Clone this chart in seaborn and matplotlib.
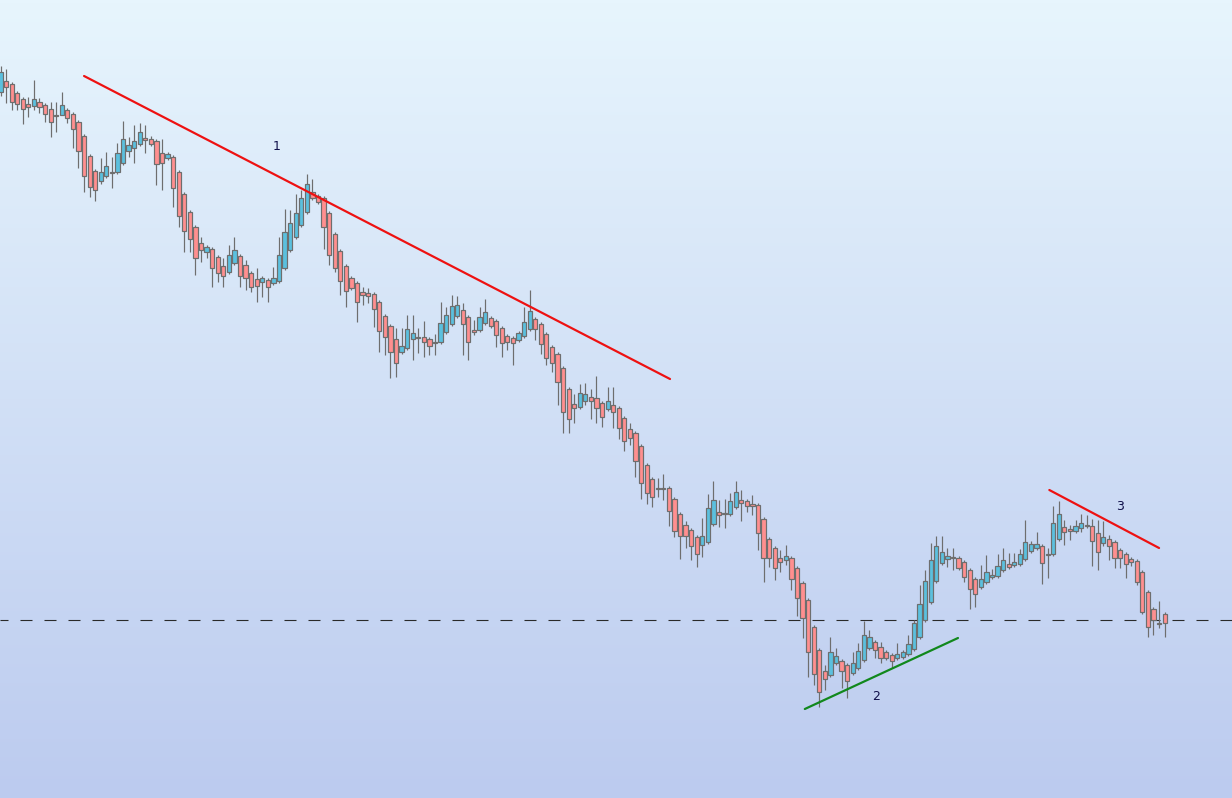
import numpy as np
import matplotlib
matplotlib.use("Agg")
import matplotlib.pyplot as plt
import seaborn as sns
from matplotlib.colors import LinearSegmentedColormap

# ---- data: candle levels (vertical position units, 0 = top) ----
open_lv = [92, 81, 84, 93, 99, 104, 106, 102, 105, 109, 115, 115, 110, 114, 122, 136, 156, 171, 181, 176,
           172, 172, 163, 151, 148, 144, 138, 139, 141, 153, 158, 157, 172, 194, 212, 227, 243, 252, 249, 257,
           266, 272, 263, 256, 265, 273, 279, 282, 280, 283, 281, 268, 250, 237, 225, 212, 192, 196, 198, 213,
           234, 251, 266, 278, 283, 292, 293, 294, 302, 316, 326, 339, 352, 348, 339, 337, 337, 339, 342, 342,
           332, 324, 316, 310, 317, 330, 330, 323, 318, 321, 328, 336, 338, 340, 336, 329, 319, 324, 334, 347,
           354, 368, 389, 404, 407, 401, 397, 398, 403, 409, 405, 408, 418, 429, 433, 446, 465, 479, 488, 488,
           488, 499, 514, 525, 530, 537, 545, 542, 524, 512, 513, 514, 507, 500, 501, 504, 505, 519, 539, 548,
           558, 560, 558, 568, 583, 600, 627, 650, 671, 675, 663, 661, 665, 673, 668, 660, 648, 642, 647, 652,
           655, 658, 657, 654, 649, 637, 620, 602, 581, 563, 559, 557, 558, 562, 570, 579, 587, 582, 577, 576,
           570, 564, 565, 564, 559, 551, 548, 546, 554, 554, 539, 527, 529, 531, 528, 525, 526, 533, 543, 539,
           542, 550, 554, 559, 561, 572, 592, 609, 623, 614]
high_lv = [66, 69, 82, 91, 97, 97, 80, 98, 103, 102, 102, 92, 108, 112, 120, 134, 154, 169, 158, 152,
           157, 143, 121, 137, 125, 123, 125, 136, 139, 139, 152, 155, 170, 192, 210, 225, 237, 245, 247, 255,
           258, 245, 237, 254, 260, 271, 268, 276, 278, 267, 237, 209, 210, 194, 190, 174, 179, 194, 196, 211,
           232, 249, 264, 276, 281, 287, 288, 292, 300, 314, 324, 328, 328, 315, 315, 328, 321, 337, 334, 302,
           307, 295, 296, 303, 315, 320, 307, 299, 316, 319, 326, 334, 336, 331, 307, 290, 317, 322, 332, 345,
           352, 366, 387, 394, 384, 383, 389, 376, 401, 387, 387, 406, 416, 423, 431, 444, 463, 477, 478, 474,
           486, 497, 512, 521, 528, 535, 518, 494, 481, 500, 499, 493, 481, 490, 499, 495, 503, 517, 537, 546,
           550, 545, 556, 566, 581, 598, 625, 648, 665, 637, 648, 659, 663, 652, 643, 621, 630, 640, 642, 650,
           653, 643, 650, 635, 620, 585, 570, 543, 536, 536, 548, 548, 556, 560, 568, 577, 565, 555, 569, 554,
           548, 553, 553, 549, 520, 541, 532, 544, 548, 506, 501, 520, 525, 520, 514, 515, 519, 520, 521, 535,
           540, 548, 552, 557, 559, 570, 590, 607, 601, 612]
low_lv = [96, 103, 110, 110, 124, 117, 110, 113, 122, 137, 132, 115, 123, 148, 168, 192, 197, 201, 184, 178,
          188, 174, 165, 157, 163, 146, 153, 146, 185, 190, 160, 207, 227, 252, 252, 275, 262, 258, 287, 282,
          287, 274, 265, 287, 290, 292, 302, 297, 302, 285, 283, 270, 252, 239, 227, 214, 200, 204, 249, 265,
          272, 295, 307, 290, 322, 305, 303, 327, 352, 355, 378, 377, 354, 350, 360, 353, 357, 355, 355, 344,
          334, 326, 318, 355, 360, 335, 332, 325, 328, 347, 357, 350, 365, 342, 338, 331, 340, 354, 365, 372,
          405, 433, 433, 423, 409, 405, 419, 423, 427, 411, 428, 439, 451, 445, 477, 499, 504, 507, 497, 500,
          526, 537, 559, 548, 560, 567, 557, 544, 526, 527, 528, 516, 509, 521, 512, 515, 550, 582, 567, 580,
          572, 565, 590, 616, 638, 677, 685, 707, 690, 677, 665, 688, 698, 675, 670, 662, 650, 658, 663, 660,
          668, 660, 659, 656, 651, 639, 622, 604, 583, 565, 567, 570, 570, 582, 609, 607, 589, 584, 579, 578,
          572, 569, 567, 566, 561, 553, 550, 584, 578, 556, 541, 545, 540, 533, 532, 528, 566, 570, 546, 560,
          568, 568, 578, 566, 585, 614, 637, 635, 628, 637]
close_lv = [72, 87, 102, 104, 109, 107, 99, 107, 114, 122, 115.5, 105, 118, 129, 151, 176, 187, 190, 172, 166,
            172.5, 153, 139, 145, 141, 132, 140, 144, 164, 163, 154, 188, 216, 231, 239, 258, 250, 247, 268, 273,
            276, 255, 250, 276, 278, 287, 286, 278, 287, 278, 255, 232, 223, 213, 198, 184, 198, 202, 227, 255,
            268, 281, 291, 288, 302, 295, 296, 309, 331, 337, 352, 363, 346, 329, 333, 337.5, 342, 346, 342.5, 323,
            315, 306, 305, 324, 342, 332, 317, 312, 326, 335, 343, 342, 343, 333, 322, 311, 329, 344, 358, 363,
            382, 412, 419, 408, 393, 394, 401, 408, 417, 401, 412, 428, 441, 438, 461, 483, 493, 497, 488.5, 488.5,
            511, 531, 536, 536, 546, 554, 536, 508, 500, 515, 513.5, 501, 492, 503, 506, 506, 533, 558, 558, 568,
            562, 556, 579, 598, 618, 652, 674, 692, 679, 652, 656, 671, 681, 663, 651, 635, 637, 650, 658, 658,
            661, 654, 652, 644, 623, 604, 581, 560, 546, 552, 556, 557.5, 568, 577, 589, 594, 579, 572, 575, 566,
            560, 567, 562, 554, 542, 544, 544, 563, 554.5, 523, 514, 532, 531, 526, 523, 525.5, 541, 552, 537, 546,
            558, 558, 564, 562, 582, 612, 627, 620, 623.5, 623]

# annotation lines and labels (x in candle index, y in level units)
trend1_x, trend1_y = [15.0, 120.2], [76, 379]
trend3_x, trend3_y = [188.3, 208.0], [490, 548]
support2_x, support2_y = [144.4, 171.9], [709, 638]
dash_level = 620
labels = ["1", "2", "3"]
label_x = [49.6, 157.2, 201.0]
label_y = [146, 697, 506]

TOP = 798  # levels are measured downward from the top of the chart
o = TOP - np.array(open_lv, float)
h = TOP - np.array(high_lv, float)
l = TOP - np.array(low_lv, float)
c = TOP - np.array(close_lv, float)
idx = np.arange(len(o))
up = c >= o

PX = 0.72  # one pixel in points at 100 dpi

sns.set_theme(style="white")
plt.rcParams["lines.scale_dashes"] = False
fig = plt.figure(figsize=(12.32, 7.98), dpi=100)
ax = fig.add_axes([0, 0, 1, 1])
x_lo, x_hi = -0.09, -0.09 + 1232 / 5.57
ax.set_xlim(x_lo, x_hi)
ax.set_ylim(0, TOP)

# gradient background
cmap = LinearSegmentedColormap.from_list("bg", ["#bccbef", "#e7f5fd"])
grad = np.linspace(0, 1, 256).reshape(-1, 1)
ax.imshow(grad, aspect="auto", cmap=cmap, origin="lower",
          extent=[x_lo, x_hi, 0, TOP], zorder=0)

edge = "#6e6e6e"
ax.vlines(idx, l, h, color=edge, linewidth=1.2 * PX, zorder=2)
body_bottom = np.minimum(o, c)
body_h = np.maximum(np.abs(c - o), 0.8)
colors = np.where(up, "#5bc0de", "#ff8f8f")
ax.bar(idx, body_h, bottom=body_bottom, width=0.76, color=colors,
       edgecolor=edge, linewidth=1.2 * PX, zorder=3)

# trend lines
ax.plot(trend1_x, TOP - np.array(trend1_y), color="#ee1111", linewidth=2.2 * PX, zorder=4)
ax.plot(trend3_x, TOP - np.array(trend3_y), color="#ee1111", linewidth=2.2 * PX, zorder=4)
ax.plot(support2_x, TOP - np.array(support2_y), color="#11881c", linewidth=2.2 * PX, zorder=4)
ax.axhline(TOP - dash_level, color="#2a2a2a", linewidth=1.1 * PX,
           linestyle=(4 * PX, (12 * PX, 12 * PX)), zorder=1)

for t, lx, ly in zip(labels, label_x, label_y):
    ax.text(lx, TOP - ly, t, fontsize=9, color="#10104a", ha="center", va="center",
            family="DejaVu Sans", zorder=5)

ax.set_axis_off()
fig.savefig("out.png", dpi=100)
